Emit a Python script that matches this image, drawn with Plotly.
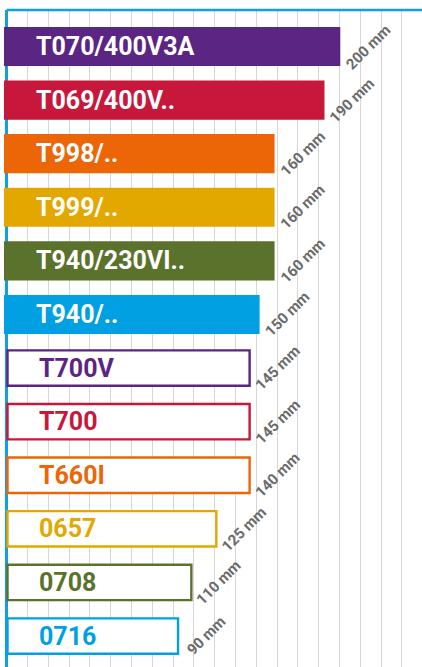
import plotly.graph_objects as go

names = ["T070/400V3A", "T069/400V..", "T998/..", "T999/..", "T940/230VI..", "T940/..",
         "T700V", "T700", "T660I", "0657", "0708", "0716"]
value_labels = ["200 mm", "190 mm", "160 mm", "160 mm", "160 mm", "150 mm",
                "145 mm", "145 mm", "140 mm", "125 mm", "110 mm", "90 mm"]
bar_lengths = [200.5, 191, 161, 161, 161, 152, 146, 146, 146, 126, 111, 103]
filled = [True, True, True, True, True, True, False, False, False, False, False, False]
colors = ["#5b2583", "#c7183c", "#ec6608", "#e2a800", "#5a722b", "#00a0e3",
          "#5b2583", "#c7183c", "#ec6608", "#e2a800", "#5a722b", "#00a0e3"]

BLUE = "#139fdf"
fig = go.Figure()

fy = [n for n, f in zip(names, filled) if f]
fx = [b for b, f in zip(bar_lengths, filled) if f]
fc = [c for c, f in zip(colors, filled) if f]
fig.add_trace(go.Bar(y=fy, x=[v + 1.6 for v in fx], base=-1.6, orientation="h",
                     marker=dict(color=fc, line=dict(width=0)), width=0.73,
                     hoverinfo="skip"))

oy = [n for n, f in zip(names, filled) if not f]
ox = [b for b, f in zip(bar_lengths, filled) if not f]
oc = [c for c, f in zip(colors, filled) if not f]
fig.add_trace(go.Bar(y=oy, x=[v - 0.5 for v in ox], base=0.5, orientation="h",
                     marker=dict(color="white", line=dict(width=2.4, color=oc)), width=0.66,
                     hoverinfo="skip"))

ann = []
for i, (n, v, lab, f, c) in enumerate(zip(names, bar_lengths, value_labels, filled, colors)):
    ann.append(dict(x=0, y=i, xref="x", yref="y", text=n, showarrow=False,
                    xanchor="left", yanchor="middle", xshift=27 if f else 30,
                    font=dict(family="Roboto", size=25, color="white" if f else c,
                              weight="bold")))
    ann.append(dict(x=v, y=i, xref="x", yref="y", text=lab, showarrow=False,
                    xanchor="center", yanchor="middle", xshift=28, textangle=-45,
                    font=dict(family="Roboto", size=15, color="#6a6a6a", weight="bold")))

fig.update_layout(
    width=422, height=667,
    margin=dict(l=0, r=0, t=10, b=0),
    paper_bgcolor="white", plot_bgcolor="white",
    showlegend=False, barmode="overlay",
    annotations=ann,
    shapes=[dict(type="line", xref="x", yref="paper", x0=0, x1=260, y0=1, y1=1,
                 line=dict(color=BLUE, width=2.5))],
    xaxis=dict(range=[-4.0, 249.6], dtick=12.5, tick0=0, showgrid=True,
               gridcolor="#d6d6d6", gridwidth=1, zeroline=True, zerolinecolor=BLUE,
               zerolinewidth=2.5, showticklabels=False, ticks="", fixedrange=True),
    yaxis=dict(type="category", categoryorder="array", categoryarray=names,
               range=[11.578, -0.681], showticklabels=False, showgrid=False,
               zeroline=False, ticks="", fixedrange=True),
)

fig.write_html("out.html", config={"displayModeBar": False},
               post_script="document.body.style.margin='0';document.body.style.overflow='hidden';")
